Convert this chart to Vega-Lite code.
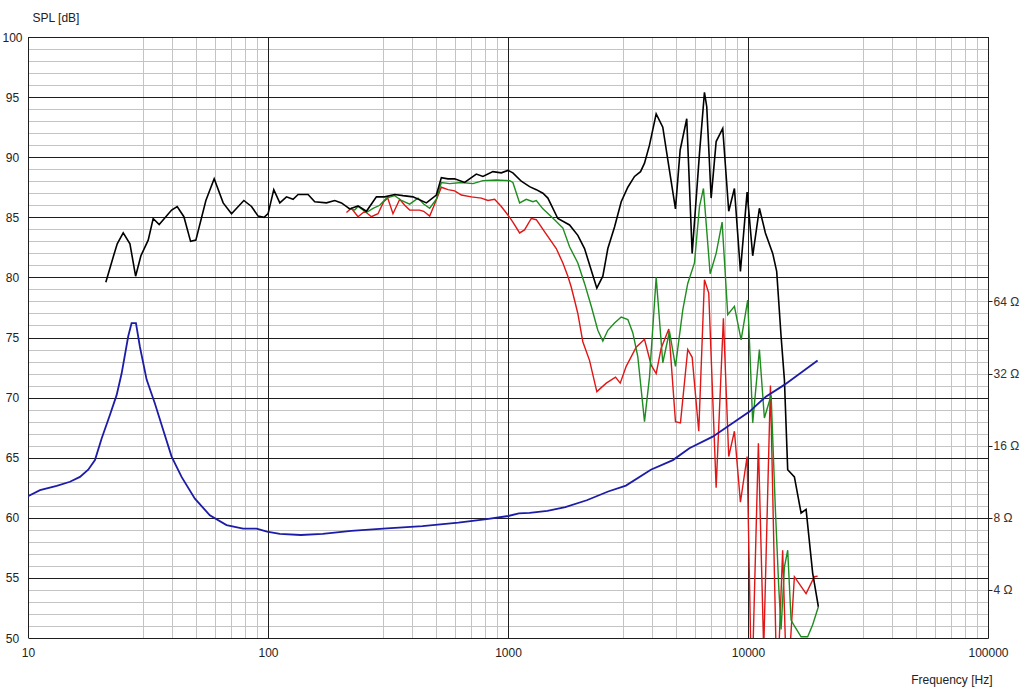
{
  "$schema": "https://vega.github.io/schema/vega-lite/v6.json",
  "width": 960,
  "height": 601,
  "autosize": {"type": "none"},
  "padding": {"left": 28, "top": 37, "right": 36, "bottom": 51},
  "background": "white",
  "config": {
    "view": {"stroke": null},
    "font": "Liberation Sans",
    "axis": {
      "labelFont": "Liberation Sans",
      "labelFontSize": 12,
      "labelColor": "#222222",
      "titleFont": "Liberation Sans",
      "titleFontSize": 12,
      "titleFontWeight": "normal",
      "titleColor": "#222222",
      "ticks": false,
      "domain": false
    }
  },
  "datasets": {
    "decades": [{"f": 10}, {"f": 100}, {"f": 1000}, {"f": 10000}, {"f": 100000}],
    "black": [
      {"f": 21.1, "db": 79.6}, {"f": 22.65, "db": 81.7}, {"f": 23.54, "db": 82.8}, {"f": 24.93, "db": 83.7},
      {"f": 26.59, "db": 82.8}, {"f": 28.08, "db": 80.1}, {"f": 29.54, "db": 81.8}, {"f": 31.68, "db": 83.1},
      {"f": 33.23, "db": 84.9}, {"f": 35.2, "db": 84.4}, {"f": 39.66, "db": 85.6}, {"f": 41.84, "db": 85.9},
      {"f": 44.62, "db": 85.05}, {"f": 47.58, "db": 83.0}, {"f": 50.05, "db": 83.1}, {"f": 55.1, "db": 86.4},
      {"f": 59.67, "db": 88.2}, {"f": 65.04, "db": 86.2}, {"f": 70.47, "db": 85.3}, {"f": 79.32, "db": 86.4},
      {"f": 85.36, "db": 85.9}, {"f": 90.95, "db": 85.1}, {"f": 96.3, "db": 85.0}, {"f": 100.1, "db": 85.3},
      {"f": 105.7, "db": 87.3}, {"f": 112, "db": 86.2}, {"f": 119.4, "db": 86.7}, {"f": 127.2, "db": 86.5},
      {"f": 133.5, "db": 86.9}, {"f": 146.9, "db": 86.9}, {"f": 156.6, "db": 86.3}, {"f": 175.2, "db": 86.2},
      {"f": 189.7, "db": 86.4}, {"f": 202.3, "db": 86.2}, {"f": 219, "db": 85.7}, {"f": 237.2, "db": 85.95},
      {"f": 257.1, "db": 85.5}, {"f": 282.9, "db": 86.7}, {"f": 306.4, "db": 86.7}, {"f": 337.2, "db": 86.9},
      {"f": 365.2, "db": 86.8}, {"f": 401.9, "db": 86.7}, {"f": 457, "db": 86.2}, {"f": 502.9, "db": 86.85},
      {"f": 527.6, "db": 88.3}, {"f": 562, "db": 88.2}, {"f": 599.6, "db": 88.2}, {"f": 659.8, "db": 87.9},
      {"f": 737.9, "db": 88.6}, {"f": 786.3, "db": 88.4}, {"f": 865.1, "db": 88.8}, {"f": 937.8, "db": 88.7},
      {"f": 999, "db": 88.9}, {"f": 1048, "db": 88.7}, {"f": 1136, "db": 88.0}, {"f": 1230, "db": 87.55},
      {"f": 1312, "db": 87.3}, {"f": 1398, "db": 87.0}, {"f": 1466, "db": 86.6}, {"f": 1613, "db": 84.9},
      {"f": 1805, "db": 84.36}, {"f": 1954, "db": 83.5}, {"f": 2084, "db": 82.4}, {"f": 2223, "db": 80.6},
      {"f": 2345, "db": 79.1}, {"f": 2484, "db": 80.1}, {"f": 2606, "db": 82.4}, {"f": 2779, "db": 84.2},
      {"f": 2963, "db": 86.3}, {"f": 3157, "db": 87.5}, {"f": 3367, "db": 88.4}, {"f": 3566, "db": 88.8},
      {"f": 3705, "db": 89.5}, {"f": 3886, "db": 91.0}, {"f": 4144, "db": 93.6}, {"f": 4415, "db": 92.5},
      {"f": 4632, "db": 89.8}, {"f": 4986, "db": 85.7}, {"f": 5216, "db": 90.6}, {"f": 5556, "db": 93.2},
      {"f": 5853, "db": 82.0}, {"f": 6278, "db": 90.3}, {"f": 6585, "db": 95.4}, {"f": 6732, "db": 94.2},
      {"f": 7022, "db": 86.6}, {"f": 7367, "db": 91.3}, {"f": 7847, "db": 92.4}, {"f": 8312, "db": 85.5},
      {"f": 8778, "db": 87.4}, {"f": 9299, "db": 80.5}, {"f": 9915, "db": 87.1}, {"f": 10462, "db": 81.8},
      {"f": 11156, "db": 85.75}, {"f": 11816, "db": 83.7}, {"f": 12675, "db": 82.0}, {"f": 13168, "db": 80.5},
      {"f": 13735, "db": 75.1}, {"f": 14180, "db": 71.5}, {"f": 14636, "db": 64.0}, {"f": 15606, "db": 63.4},
      {"f": 16640, "db": 60.4}, {"f": 17458, "db": 60.7}, {"f": 18597, "db": 55.4}, {"f": 19644, "db": 52.6}
    ],
    "green": [
      {"f": 215.5, "db": 85.75}, {"f": 229.8, "db": 85.6}, {"f": 237.2, "db": 85.9}, {"f": 257.1, "db": 85.4},
      {"f": 274, "db": 85.75}, {"f": 292.1, "db": 86.0}, {"f": 311.5, "db": 86.6}, {"f": 337.2, "db": 86.8},
      {"f": 359.6, "db": 86.4}, {"f": 389.4, "db": 86.1}, {"f": 421.7, "db": 86.6}, {"f": 445.4, "db": 86.1},
      {"f": 471.7, "db": 85.75}, {"f": 502.9, "db": 86.5}, {"f": 527.6, "db": 87.9}, {"f": 571.4, "db": 87.8},
      {"f": 639.1, "db": 87.9}, {"f": 714.4, "db": 87.8}, {"f": 786.3, "db": 88.05}, {"f": 894, "db": 88.1},
      {"f": 1016, "db": 88.05}, {"f": 1048, "db": 87.9}, {"f": 1118, "db": 86.2}, {"f": 1192, "db": 86.5},
      {"f": 1270, "db": 86.3}, {"f": 1312, "db": 86.4}, {"f": 1398, "db": 85.7}, {"f": 1563, "db": 84.8},
      {"f": 1693, "db": 84.1}, {"f": 1805, "db": 82.55}, {"f": 1954, "db": 81.2}, {"f": 2084, "db": 79.5},
      {"f": 2223, "db": 77.6}, {"f": 2367, "db": 75.6}, {"f": 2484, "db": 74.7}, {"f": 2606, "db": 75.6},
      {"f": 2779, "db": 76.2}, {"f": 2963, "db": 76.7}, {"f": 3157, "db": 76.5}, {"f": 3311, "db": 75.4},
      {"f": 3474, "db": 73.4}, {"f": 3705, "db": 68.0}, {"f": 3886, "db": 71.7}, {"f": 4144, "db": 80.0},
      {"f": 4415, "db": 72.9}, {"f": 4708, "db": 75.5}, {"f": 4986, "db": 72.6}, {"f": 5349, "db": 77.3},
      {"f": 5610, "db": 79.5}, {"f": 5982, "db": 81.2}, {"f": 6278, "db": 85.9}, {"f": 6522, "db": 87.4},
      {"f": 6954, "db": 80.3}, {"f": 7367, "db": 82.0}, {"f": 7801, "db": 84.6}, {"f": 8233, "db": 76.9},
      {"f": 8778, "db": 77.6}, {"f": 9361, "db": 74.8}, {"f": 9972, "db": 78.1}, {"f": 10204, "db": 73.4},
      {"f": 10462, "db": 67.9}, {"f": 11156, "db": 74.0}, {"f": 11702, "db": 68.3}, {"f": 12484, "db": 70.2},
      {"f": 13009, "db": 60.6}, {"f": 13426, "db": 54.3}, {"f": 13735, "db": 50.7}, {"f": 14180, "db": 55.9},
      {"f": 14636, "db": 57.3}, {"f": 15119, "db": 51.5}, {"f": 15606, "db": 51.0}, {"f": 16640, "db": 50.1},
      {"f": 17724, "db": 50.1}, {"f": 18597, "db": 51.1}, {"f": 19644, "db": 52.6}
    ],
    "red": [
      {"f": 212.3, "db": 85.4}, {"f": 222.6, "db": 85.75}, {"f": 237.2, "db": 85.05}, {"f": 252.9, "db": 85.5},
      {"f": 269.8, "db": 85.05}, {"f": 287.3, "db": 85.3}, {"f": 303.5, "db": 86.3}, {"f": 315.4, "db": 86.6},
      {"f": 331.7, "db": 85.3}, {"f": 353.9, "db": 86.5}, {"f": 371.2, "db": 86.0}, {"f": 389.4, "db": 85.6},
      {"f": 428.5, "db": 85.6}, {"f": 445.4, "db": 85.5}, {"f": 471.7, "db": 85.1}, {"f": 490.1, "db": 85.9},
      {"f": 527.6, "db": 87.5}, {"f": 562, "db": 87.3}, {"f": 599.6, "db": 87.2}, {"f": 639.1, "db": 86.85},
      {"f": 703.5, "db": 86.7}, {"f": 774.2, "db": 86.6}, {"f": 824.9, "db": 86.4}, {"f": 879.5, "db": 86.5},
      {"f": 937.8, "db": 85.9}, {"f": 1016, "db": 85.0}, {"f": 1048, "db": 84.6}, {"f": 1118, "db": 83.7},
      {"f": 1172, "db": 83.95}, {"f": 1250, "db": 84.9}, {"f": 1312, "db": 84.8}, {"f": 1443, "db": 83.6},
      {"f": 1589, "db": 82.4}, {"f": 1693, "db": 81.2}, {"f": 1776, "db": 80.1}, {"f": 1834, "db": 79.2},
      {"f": 1894, "db": 78.1}, {"f": 1954, "db": 77.0}, {"f": 2050, "db": 74.65}, {"f": 2186, "db": 73.1},
      {"f": 2345, "db": 70.5}, {"f": 2567, "db": 71.2}, {"f": 2806, "db": 71.7}, {"f": 2935, "db": 71.2},
      {"f": 3108, "db": 72.6}, {"f": 3421, "db": 74.2}, {"f": 3705, "db": 74.85}, {"f": 3950, "db": 72.7},
      {"f": 4144, "db": 72.0}, {"f": 4346, "db": 74.1}, {"f": 4677, "db": 75.7}, {"f": 4986, "db": 68.0},
      {"f": 5231, "db": 67.9}, {"f": 5610, "db": 74.0}, {"f": 5853, "db": 73.35}, {"f": 6235, "db": 67.2},
      {"f": 6585, "db": 79.8}, {"f": 6862, "db": 78.7}, {"f": 7367, "db": 62.5}, {"f": 7898, "db": 76.6},
      {"f": 8312, "db": 65.1}, {"f": 8778, "db": 67.2}, {"f": 9299, "db": 61.3}, {"f": 9915, "db": 65.1},
      {"f": 10361, "db": 45}, {"f": 11048, "db": 66.2}, {"f": 11626, "db": 49}, {"f": 12401, "db": 71.0},
      {"f": 13216, "db": 45}, {"f": 13944, "db": 57.3}, {"f": 14548, "db": 45}, {"f": 15606, "db": 55.1},
      {"f": 17458, "db": 53.7}, {"f": 18899, "db": 55.1}, {"f": 19513, "db": 55.15}
    ],
    "imp": [
      {"f": 10, "ohm": 9.85}, {"f": 11.22, "ohm": 10.43}, {"f": 13.17, "ohm": 10.87}, {"f": 14.96, "ohm": 11.31},
      {"f": 16.46, "ohm": 11.85}, {"f": 17.82, "ohm": 12.7}, {"f": 19.01, "ohm": 13.93}, {"f": 20.27, "ohm": 17.15},
      {"f": 21.94, "ohm": 21.5}, {"f": 23.4, "ohm": 26.0}, {"f": 24.55, "ohm": 32.0}, {"f": 26.16, "ohm": 45.8},
      {"f": 27.02, "ohm": 52.0}, {"f": 28.17, "ohm": 52.0}, {"f": 29.27, "ohm": 41.3}, {"f": 31.21, "ohm": 30.2},
      {"f": 33.79, "ohm": 24.0}, {"f": 36.59, "ohm": 18.6}, {"f": 39.66, "ohm": 14.4}, {"f": 43.64, "ohm": 11.85},
      {"f": 49.59, "ohm": 9.62}, {"f": 57.24, "ohm": 8.19}, {"f": 67.18, "ohm": 7.46}, {"f": 78.76, "ohm": 7.21},
      {"f": 89.58, "ohm": 7.21}, {"f": 99.1, "ohm": 7.01}, {"f": 112, "ohm": 6.85}, {"f": 137, "ohm": 6.78},
      {"f": 169, "ohm": 6.85}, {"f": 222, "ohm": 7.05}, {"f": 313, "ohm": 7.22}, {"f": 440, "ohm": 7.38},
      {"f": 621, "ohm": 7.64}, {"f": 815, "ohm": 7.9}, {"f": 1002, "ohm": 8.14}, {"f": 1110, "ohm": 8.35},
      {"f": 1230, "ohm": 8.39}, {"f": 1459, "ohm": 8.55}, {"f": 1733, "ohm": 8.86}, {"f": 2129, "ohm": 9.47},
      {"f": 2614, "ohm": 10.3}, {"f": 3100, "ohm": 10.9}, {"f": 3937, "ohm": 12.7}, {"f": 4864, "ohm": 13.93},
      {"f": 5700, "ohm": 15.6}, {"f": 7128, "ohm": 17.45}, {"f": 10150, "ohm": 22.2}, {"f": 11900, "ohm": 25.7},
      {"f": 14160, "ohm": 28.7}, {"f": 19500, "ohm": 36.3}
    ]
  },
  "layer": [
    {
      "data": {"name": "decades"},
      "mark": {"type": "rule", "color": "#1e1e1e", "strokeWidth": 1, "xOffset": 0.5},
      "encoding": {
        "x": {
          "field": "f", "type": "quantitative",
          "scale": {"type": "log", "domain": [10, 100000], "nice": false},
          "axis": {
            "orient": "bottom",
            "values": [10, 100, 1000, 10000, 100000],
            "format": "d",
            "grid": false,
            "labels": true, "labelFlush": false, "labelPadding": 9, "labelOverlap": false,
            "ticks": false, "domain": false,
            "title": "Frequency [Hz]",
            "titleX": 964, "titleY": 45, "titleAlign": "right", "titleBaseline": "alphabetic", "titleAnchor": null
          }
        }
      }
    },
    {
      "data": {"name": "red"},
      "mark": {"type": "line", "color": "#e01515", "strokeWidth": 1.4, "clip": true},
      "encoding": {
        "x": {"field": "f", "type": "quantitative", "scale": {"type": "log", "domain": [10, 100000], "nice": false}, "axis": null},
        "y": {
          "field": "db", "type": "quantitative",
          "scale": {"domain": [50, 100], "nice": false, "zero": false},
          "axis": {
            "orient": "left",
            "values": [50, 55, 60, 65, 70, 75, 80, 85, 90, 95, 100],
            "grid": true, "gridColor": "#1e1e1e", "gridWidth": 1, "gridOpacity": 1,
            "labels": true, "labelAlign": "center", "labelPadding": 16, "labelFlush": false, "labelOverlap": false,
            "ticks": false, "domain": false,
            "title": "SPL [dB]",
            "titleAngle": 0, "titleX": 4, "titleY": -16, "titleAlign": "left", "titleBaseline": "alphabetic", "titleAnchor": null
          }
        }
      }
    },
    {
      "data": {"name": "green"},
      "mark": {"type": "line", "color": "#1e8c1e", "strokeWidth": 1.4, "clip": true},
      "encoding": {
        "x": {
          "field": "f", "type": "quantitative",
          "scale": {"type": "log", "domain": [10, 100000], "nice": false},
          "axis": {
            "orient": "bottom",
            "values": [30, 40, 50, 60, 70, 80, 90, 300, 400, 500, 600, 700, 800, 900, 3000, 4000, 5000, 6000, 7000, 8000, 9000, 30000, 40000, 50000, 60000, 70000, 80000, 90000],
            "grid": true, "gridColor": "#c4c4c4", "gridWidth": 1, "gridOpacity": 1,
            "labels": false, "ticks": false, "domain": false, "title": null
          }
        },
        "y": {
          "field": "db", "type": "quantitative",
          "scale": {"domain": [50, 100], "nice": false, "zero": false},
          "axis": {
            "orient": "left",
            "values": [51, 52, 53, 54, 56, 57, 58, 59, 61, 62, 63, 64, 66, 67, 68, 69, 71, 72, 73, 74, 76, 77, 78, 79, 81, 82, 83, 84, 86, 87, 88, 89, 91, 92, 93, 94, 96, 97, 98, 99],
            "grid": true, "gridColor": "#c4c4c4", "gridWidth": 1, "gridOpacity": 1,
            "labels": false, "ticks": false, "domain": false, "title": null
          }
        }
      }
    },
    {
      "data": {"name": "black"},
      "mark": {"type": "line", "color": "#000000", "strokeWidth": 1.6, "clip": true},
      "encoding": {
        "x": {"field": "f", "type": "quantitative", "scale": {"type": "log", "domain": [10, 100000], "nice": false}, "axis": null},
        "y": {"field": "db", "type": "quantitative", "scale": {"domain": [50, 100], "nice": false, "zero": false}, "axis": null}
      }
    },
    {
      "data": {"name": "imp"},
      "mark": {"type": "line", "color": "#1c1ca8", "strokeWidth": 1.8, "clip": true},
      "encoding": {
        "x": {"field": "f", "type": "quantitative", "scale": {"type": "log", "domain": [10, 100000], "nice": false}, "axis": null},
        "y": {
          "field": "ohm", "type": "quantitative",
          "scale": {"type": "log", "base": 2, "domain": [2.5198, 812.75], "nice": false},
          "axis": {
            "orient": "right",
            "values": [4, 8, 16, 32, 64],
            "labelExpr": "datum.value + ' Ω'",
            "grid": false,
            "labels": true, "labelPadding": 1, "labelFlush": false, "labelOverlap": false,
            "labelColor": "#333333",
            "ticks": true, "tickSize": 4, "tickColor": "#1e1e1e",
            "domain": true, "domainColor": "#1e1e1e",
            "title": null
          }
        }
      }
    }
  ],
  "resolve": {"scale": {"y": "independent"}, "axis": {"x": "independent", "y": "independent"}}
}
